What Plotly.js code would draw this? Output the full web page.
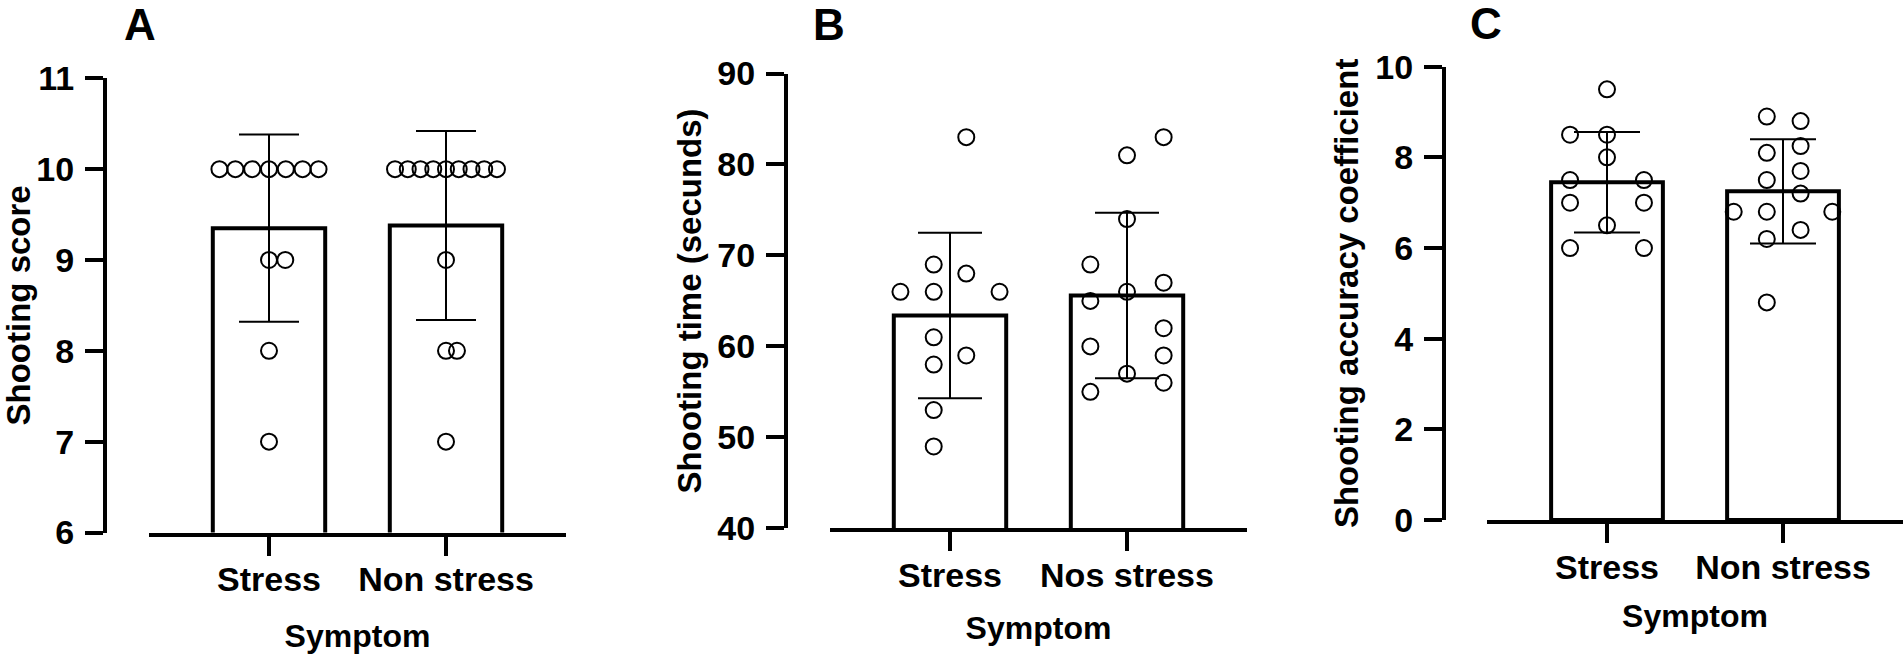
<!DOCTYPE html>
<html>
<head>
<meta charset="utf-8">
<script src="https://cdn.plot.ly/plotly-3.0.1.min.js"></script>
<style>
html, body { margin: 0; padding: 0; background: #fff; }
#chart { width: 1904px; height: 654px; }
</style>
</head>
<body>
<div id="chart"></div>
<script>
// A - shooting score
const groupsA = ['Stress', 'Non stress'];
const meanA = [9.35, 9.38];
const sdA = [1.03, 1.04];
const stressA = [10, 10, 10, 10, 10, 10, 10, 9, 9, 8, 7];
const stressJitA = [-0.28, -0.19, -0.095, 0, 0.095, 0.19, 0.28, 0, 0.092, 0, 0];
const nonA = [10, 10, 10, 10, 10, 10, 10, 10, 10, 9, 8, 8, 7];
const nonJitA = [-0.288, -0.216, -0.144, -0.072, 0, 0.072, 0.144, 0.216, 0.288, 0, 0, 0.062, 0];

// B - shooting time
const groupsB = ['Stress', 'Nos stress'];
const meanB = [63.4, 65.6];
const sdB = [9.1, 9.1];
const stressB = [83, 69, 68, 66, 66, 66, 61, 59, 58, 53, 49];
const stressJitB = [0.092, -0.092, 0.092, -0.28, -0.092, 0.28, -0.092, 0.092, -0.092, -0.092, -0.092];
const nonB = [83, 81, 74, 69, 67, 66, 65, 62, 60, 59, 57, 56, 55];
const nonJitB = [0.207, 0, 0, -0.207, 0.207, 0, -0.207, 0.207, -0.207, 0.207, 0, 0.207, -0.207];

// C - shooting accuracy coefficient
const groupsC = ['Stress', 'Non stress'];
const meanC = [7.45, 7.25];
const sdC = [1.11, 1.15];
const stressC = [9.5, 8.5, 8.5, 8.0, 7.5, 7.5, 7.0, 7.0, 6.5, 6.0, 6.0];
const stressJitC = [0, -0.21, 0, 0, -0.21, 0.21, -0.21, 0.21, 0, -0.21, 0.21];
const nonC = [8.9, 8.8, 8.25, 8.1, 7.7, 7.5, 7.2, 6.8, 6.8, 6.8, 6.4, 6.2, 4.8];
const nonJitC = [-0.092, 0.1, 0.1, -0.092, 0.1, -0.092, 0.1, -0.28, -0.092, 0.28, 0.1, -0.092, -0.092];

const W = 1904, H = 654;
const fx = (px) => px / W;
const fy = (py) => 1 - py / H;
const FONT = 'Liberation Sans, Arial, Helvetica, sans-serif';
const tickFont = { family: FONT, size: 34, color: '#000', weight: 'bold' };
const titleFont = { family: FONT, size: 33, color: '#000', weight: 'bold' };

// pixel geometry of each panel (y axis x, first category centre, category step, plot top/bottom)
const panels = [
    { k: '', letter: 'A', groups: groupsA, mean: meanA, sd: sdA, pts: [[stressA, stressJitA], [nonA, nonJitA]],
      ytitle: 'Shooting score', yrange: [6, 11], ytick: [6, 7, 8, 9, 10, 11],
      yx: 105, c0: 269, step: 177, top: 78.3, bot: 532.5, cap: 30, lx: 140, ly: 25,
      ystand: 24, xstand: 29 },
    { k: '2', letter: 'B', groups: groupsB, mean: meanB, sd: sdB, pts: [[stressB, stressJitB], [nonB, nonJitB]],
      ytitle: 'Shooting time (secunds)', yrange: [40, 90], ytick: [40, 50, 60, 70, 80, 90],
      yx: 786, c0: 950, step: 177, top: 73.5, bot: 528.3, cap: 32, lx: 829, ly: 24,
      ystand: 5, xstand: 25 },
    { k: '3', letter: 'C', groups: groupsC, mean: meanC, sd: sdC, pts: [[stressC, stressJitC], [nonC, nonJitC]],
      ytitle: 'Shooting accuracy coefficient', yrange: [0, 10], ytick: [0, 2, 4, 6, 8, 10],
      yx: 1444, c0: 1607, step: 176, top: 66.7, bot: 520, cap: 33, lx: 1486, ly: 23,
      ystand: 6, xstand: 21 },
];

const data = [];
const layout = {
    width: W, height: H,
    margin: { t: 0, b: 0, l: 0, r: 0 },
    paper_bgcolor: '#fff', plot_bgcolor: 'rgba(0,0,0,0)',
    showlegend: false,
    annotations: [],
};

panels.forEach((p) => {
    const xa = 'x' + p.k, ya = 'y' + p.k;
    data.push({
        type: 'bar',
        x: [0, 1],
        y: p.mean,
        width: 0.635,
        marker: { color: '#fff', line: { color: '#000', width: 4 } },
        error_y: { type: 'data', array: p.sd, visible: true, color: '#000', thickness: 2, width: p.cap },
        hoverinfo: 'skip',
        xaxis: xa, yaxis: ya,
    });
    p.pts.forEach(([vals, jit], g) => {
        data.push({
            type: 'scatter',
            mode: 'markers',
            x: vals.map((v, i) => g + jit[i]),
            y: vals,
            marker: { symbol: 'circle-open', size: 16, color: '#000', line: { color: '#000', width: 2 } },
            cliponaxis: false,
            hoverinfo: 'y',
            xaxis: xa, yaxis: ya,
        });
    });
    layout['xaxis' + p.k] = {
        domain: [fx(p.c0 - 0.68 * p.step), Math.min(1, fx(p.c0 + 1.68 * p.step))],
        anchor: ya,
        range: [-0.68, 1.68],
        tickmode: 'array', tickvals: [0, 1], ticktext: p.groups,
        showline: true, linewidth: 4, linecolor: '#000',
        ticks: 'outside', ticklen: 19, tickwidth: 4, tickcolor: '#000',
        showgrid: false, zeroline: false,
        tickfont: tickFont, ticklabelstandoff: -5,
        title: { text: 'Symptom', font: { ...titleFont, size: 32 }, standoff: p.xstand },
        fixedrange: true,
    };
    layout['yaxis' + p.k] = {
        domain: [fy(p.bot), fy(p.top)],
        anchor: 'free', position: fx(p.yx),
        range: p.yrange,
        tickmode: 'array', tickvals: p.ytick,
        showline: true, linewidth: 4, linecolor: '#000',
        ticks: 'outside', ticklen: 18, tickwidth: 4, tickcolor: '#000',
        showgrid: false, zeroline: false,
        tickfont: tickFont, ticklabelstandoff: 4,
        title: { text: p.ytitle, font: titleFont, standoff: p.ystand },
        fixedrange: true,
    };
    layout.annotations.push({
        text: p.letter, xref: 'paper', yref: 'paper',
        x: fx(p.lx), y: fy(p.ly), xanchor: 'center', yanchor: 'middle',
        showarrow: false, font: { family: FONT, size: 44, color: '#000', weight: 'bold' },
    });
});

Plotly.newPlot('chart', data, layout, { displayModeBar: false, staticPlot: true });
</script>
</body>
</html>
